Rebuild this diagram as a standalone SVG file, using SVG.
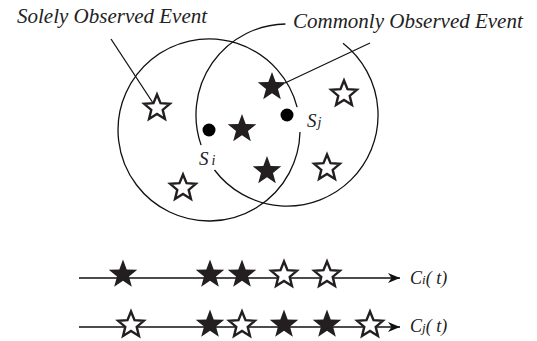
<svg xmlns="http://www.w3.org/2000/svg" width="537" height="341" viewBox="0 0 537 341">
<style>
.txt{font-family:"Liberation Serif","Times New Roman",serif;font-style:italic;fill:#222}
.ln{fill:none;stroke:#111;stroke-width:1.3}
.fs{fill:#231f20}
.hs{fill:#fff;stroke:#231f20;stroke-width:2.4;stroke-linejoin:miter}
</style>
<defs>
<path id="fstar" d="M0,-15 L3.70,-5.10 L14.27,-4.64 L5.99,1.95 L8.82,12.14 L0,6.3 L-8.82,12.14 L-5.99,1.95 L-14.27,-4.64 L-3.70,-5.10 Z"/>
<path id="hstar" d="M0,-13.5 L3.53,-4.85 L12.84,-4.17 L5.71,1.85 L7.94,10.92 L0,6 L-7.94,10.92 L-5.71,1.85 L-12.84,-4.17 L-3.53,-4.85 Z"/>
<marker id="arr" viewBox="-13 -6 14 12" refX="0" refY="0" markerWidth="14" markerHeight="12" markerUnits="userSpaceOnUse" orient="auto">
<path d="M0,0 L-12,-5 L-8.5,0 L-12,5 Z" fill="#111"/>
</marker>
</defs>
<g id="range-i"><path class="ln" d="M300,132.1 A91,91 0 1 1 297.1,107.1"/></g>
<g id="range-j"><path class="ln" d="M343,43.3 A91,91 0 1 1 214.5,170"/><path class="ln" d="M201.1,145.1 A91,91 0 0 1 285.4,24"/></g>
<g id="connectors">
<line class="ln" x1="111" y1="39" x2="153" y2="103"/>
<line class="ln" x1="370" y1="43" x2="285" y2="83"/>
<line class="ln" x1="79" y1="278" x2="400" y2="278" marker-end="url(#arr)"/>
<line class="ln" x1="79" y1="327" x2="400" y2="327" marker-end="url(#arr)"/>
</g>
<g id="label-solely"><text class="txt" x="17" y="23" font-size="21">Solely Observed Event</text></g>
<g id="label-commonly"><text class="txt" x="293" y="28" font-size="21">Commonly Observed Event</text></g>
<g id="sensor-i"><circle cx="209" cy="130" r="6.5" fill="#000"/><text class="txt" x="199" y="165" font-size="19">S<tspan dx="3" font-size="14">i</tspan></text></g>
<g id="sensor-j"><circle cx="287" cy="115" r="6.5" fill="#000"/><text class="txt" x="307" y="127" font-size="19">S<tspan dx="1" font-size="14">j</tspan></text></g>
<g id="events">
<use href="#hstar" class="hs" x="157" y="108"/>
<use href="#fstar" class="fs" x="272" y="87"/>
<use href="#hstar" class="hs" x="344" y="94"/>
<use href="#fstar" class="fs" x="242" y="129"/>
<use href="#fstar" class="fs" x="267" y="171"/>
<use href="#hstar" class="hs" x="327" y="168"/>
<use href="#hstar" class="hs" x="183" y="188"/>
</g>
<g id="timeline-i">
<use href="#fstar" class="fs" x="123" y="274.5"/>
<use href="#fstar" class="fs" x="210" y="274.5"/>
<use href="#fstar" class="fs" x="242" y="274.5"/>
<use href="#hstar" class="hs" x="284" y="275"/>
<use href="#hstar" class="hs" x="327" y="275"/>
<text class="txt" x="410" y="284" font-size="18">C<tspan font-size="13">i</tspan>( t)</text>
</g>
<g id="timeline-j">
<use href="#hstar" class="hs" x="131" y="325"/>
<use href="#fstar" class="fs" x="210" y="324.5"/>
<use href="#hstar" class="hs" x="242" y="325"/>
<use href="#fstar" class="fs" x="284" y="324.5"/>
<use href="#fstar" class="fs" x="327" y="324.5"/>
<use href="#hstar" class="hs" x="370" y="325"/>
<text class="txt" x="410" y="332" font-size="18">C<tspan font-size="13">j</tspan>( t)</text>
</g>
</svg>
